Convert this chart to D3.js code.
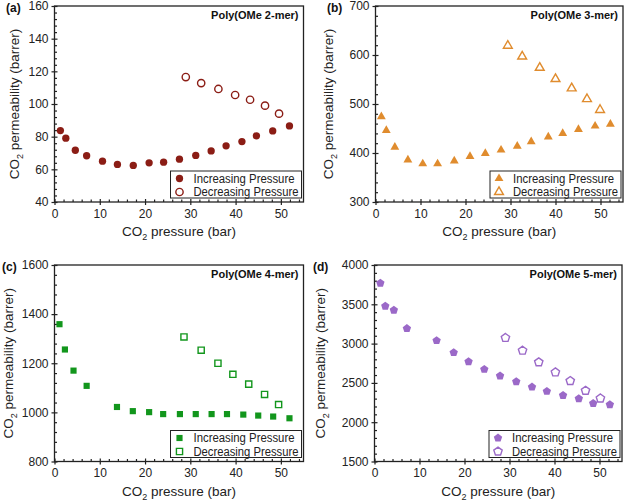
<!DOCTYPE html>
<html>
<head>
<meta charset="utf-8">
<script src="https://cdn.jsdelivr.net/npm/d3@7"></script>
<style>
  body { margin: 0; background: #fff; }
  svg { font-family: "Liberation Sans", Arial, sans-serif; }
</style>
</head>
<body>
<svg id="chart" width="625" height="503"></svg>
<script>
// data
const incX2 = [1.3, 2.5, 4.6, 7.1, 10.6, 13.9, 17.4, 20.9, 24.1, 27.6, 31.2, 34.6, 37.9, 41.4, 44.6, 48.2, 51.9];
const incY2 = [83.7, 79.1, 71.7, 68.3, 65.0, 63.0, 62.4, 64.0, 64.4, 66.2, 68.5, 71.3, 74.4, 77.0, 80.5, 83.5, 86.6];
const decX2 = [29.0, 32.4, 36.2, 39.9, 43.2, 46.5, 49.6];
const decY2 = [116.5, 112.8, 109.2, 105.5, 102.6, 99.0, 94.1];

const incX3 = [1.3, 2.4, 4.3, 7.2, 10.5, 13.8, 17.5, 21.0, 24.4, 27.9, 31.5, 34.6, 38.4, 41.6, 45.1, 48.8, 52.2];
const incY3 = [474, 446, 412, 386, 378, 378, 384, 393, 399, 406, 414, 423, 433, 440, 448, 455, 459];
const decX3 = [29.4, 32.6, 36.5, 40.0, 43.6, 47.0, 49.9];
const decY3 = [619, 597, 574, 551, 532, 510, 488];

const incX4 = [1.1, 2.3, 4.2, 7.1, 13.8, 17.3, 20.9, 24.0, 27.7, 31.2, 34.7, 38.1, 41.7, 45.0, 48.3, 51.9];
const incY4 = [1359, 1256, 1170, 1108, 1022, 1005, 1001, 993, 993, 993, 993, 993, 991, 987, 983, 976];
const decX4 = [28.6, 32.4, 36.1, 39.4, 42.9, 46.4, 49.5];
const decY4 = [1307, 1253, 1200, 1155, 1115, 1073, 1032];

const incX5 = [1.3, 2.4, 4.3, 7.2, 13.8, 17.6, 20.9, 24.4, 27.9, 31.5, 35.0, 38.3, 41.9, 45.4, 48.6, 52.3];
const incY5 = [3770, 3477, 3426, 3192, 3039, 2886, 2771, 2673, 2588, 2516, 2448, 2393, 2342, 2299, 2240, 2223];
const decX5 = [29.1, 32.9, 36.5, 40.2, 43.5, 46.9, 50.2];
const decY5 = [3073, 2911, 2763, 2635, 2525, 2401, 2303];

const xTicks = [0, 10, 20, 30, 40, 50];
const yTicks2 = [40, 60, 80, 100, 120, 140, 160];
const yTicks3 = [300, 400, 500, 600, 700];
const yTicks4 = [800, 1000, 1200, 1400, 1600];
const yTicks5 = [1500, 2000, 2500, 3000, 3500, 4000];

const seriesNames = ["Increasing Pressure", "Decreasing Pressure"];

const svg = d3.select("#chart");

// d3 has no pentagon symbol, so make one
const symbolPentagon = {
  draw(context, size) {
    const r = Math.sqrt(size / 2.378);
    for (let i = 0; i < 5; i++) {
      const a = -Math.PI / 2 + i * 2 * Math.PI / 5;
      const px = r * Math.cos(a), py = r * Math.sin(a);
      if (i === 0) context.moveTo(px, py); else context.lineTo(px, py);
    }
    context.closePath();
  }
};

const panels = [
  { tag: "(a)", title: "Poly(OMe 2-mer)", color: "#8b1d15", symbol: d3.symbolCircle, size: 42,
    box: [54.5, 6, 303.5, 202], yDom: [40, 160], yTicks: yTicks2, yMinor: 5,
    inc: [incX2, incY2], dec: [decX2, decY2], tagX: 6, titleOff: 36 },
  { tag: "(b)", title: "Poly(OMe 3-mer)", color: "#e08c2e", symbol: d3.symbolTriangle, size: 34,
    box: [375.5, 6, 623, 202], yDom: [300, 700], yTicks: yTicks3, yMinor: 5,
    inc: [incX3, incY3], dec: [decX3, decY3], tagX: 327, titleOff: 42.5 },
  { tag: "(c)", title: "Poly(OMe 4-mer)", color: "#12961c", symbol: d3.symbolSquare, size: 38,
    box: [54.5, 265, 303.5, 461.5], yDom: [800, 1600], yTicks: yTicks4, yMinor: 5,
    inc: [incX4, incY4], dec: [decX4, decY4], tagX: 2, titleOff: 42 },
  { tag: "(d)", title: "Poly(OMe 5-mer)", color: "#9b69c8", symbol: symbolPentagon, size: 46,
    box: [374.5, 265, 622, 461.5], yDom: [1500, 4000], yTicks: yTicks5, yMinor: 5,
    inc: [incX5, incY5], dec: [decX5, decY5], tagX: 313, titleOff: 50 }
];

function minorTicks(major, parts) {
  const out = [];
  for (let i = 0; i < major.length - 1; i++) {
    const step = (major[i + 1] - major[i]) / parts;
    for (let k = 1; k < parts; k++) out.push(major[i] + k * step);
  }
  return out;
}

function co2Text(sel, rest) {
  sel.append("tspan").text("CO");
  sel.append("tspan").attr("font-size", "9px").attr("dy", 4).text("2");
  sel.append("tspan").attr("dy", -4).text(rest);
}

const fmt = d3.format("d");

panels.forEach(p => {
  const [x0, y0, x1, y1] = p.box;
  const x = d3.scaleLinear().domain([0, 55]).range([x0, x1]);
  const y = d3.scaleLinear().domain(p.yDom).range([y1, y0]);
  const g = svg.append("g");

  // minor ticks point inward
  const xMinor = minorTicks(xTicks.concat([60]), 5).filter(v => v < 55);
  g.append("g").attr("transform", `translate(0,${y1})`)
    .call(d3.axisBottom(x).tickValues(xMinor).tickSize(-2.5).tickFormat(""))
    .call(a => a.select(".domain").remove());
  g.append("g").attr("transform", `translate(${x0},0)`)
    .call(d3.axisLeft(y).tickValues(minorTicks(p.yTicks, p.yMinor)).tickSize(-2.5).tickFormat(""))
    .call(a => a.select(".domain").remove());

  // major ticks cross the axis
  const xa = g.append("g").attr("transform", `translate(0,${y1})`)
    .call(d3.axisBottom(x).tickValues(xTicks).tickFormat(fmt).tickSizeInner(3).tickSizeOuter(0).tickPadding(4));
  xa.selectAll(".tick line").attr("y1", -3);
  xa.select(".domain").remove();
  xa.selectAll("text").attr("font-size", "12px").attr("fill", "#222");

  const ya = g.append("g").attr("transform", `translate(${x0},0)`)
    .call(d3.axisLeft(y).tickValues(p.yTicks).tickFormat(fmt).tickSizeInner(3).tickSizeOuter(0).tickPadding(3));
  ya.selectAll(".tick line").attr("x1", 3);
  ya.select(".domain").remove();
  ya.selectAll("text").attr("font-size", "12px").attr("fill", "#222");

  g.selectAll(".tick line").attr("stroke", "#222").attr("stroke-width", 1.2);

  // frame
  g.append("rect").attr("x", x0).attr("y", y0)
    .attr("width", x1 - x0).attr("height", y1 - y0)
    .attr("fill", "none").attr("stroke", "#222").attr("stroke-width", 1.3);

  // points
  const sym = d3.symbol().type(p.symbol).size(p.size);
  const inc = p.inc[0].map((v, i) => [v, p.inc[1][i]]);
  const dec = p.dec[0].map((v, i) => [v, p.dec[1][i]]);
  g.selectAll(".inc").data(inc).join("path").attr("class", "inc")
    .attr("d", sym)
    .attr("transform", d => `translate(${x(d[0])},${y(d[1])})`)
    .attr("fill", p.color);
  g.selectAll(".dec").data(dec).join("path").attr("class", "dec")
    .attr("d", sym)
    .attr("transform", d => `translate(${x(d[0])},${y(d[1])})`)
    .attr("fill", "#fff").attr("stroke", p.color).attr("stroke-width", 1.4);

  // panel title and tag
  g.append("text").attr("x", x1 - 5).attr("y", y0 + 13)
    .attr("text-anchor", "end").attr("font-size", "11px").attr("font-weight", "bold")
    .attr("fill", "#111").text(p.title);
  g.append("text").attr("x", p.tagX).attr("y", y0 + 6)
    .attr("font-size", "12px").attr("font-weight", "bold")
    .attr("fill", "#111").text(p.tag);

  // axis titles
  co2Text(g.append("text").attr("x", (x0 + x1) / 2).attr("y", y1 + 34)
    .attr("text-anchor", "middle").attr("font-size", "13.5px").attr("fill", "#222"), " pressure (bar)");
  co2Text(g.append("text")
    .attr("transform", `translate(${x0 - p.titleOff},${(y0 + y1) / 2}) rotate(-90)`)
    .attr("text-anchor", "middle").attr("font-size", "13.5px").attr("fill", "#222"), " permeability (barrer)");

  // legend
  const lw = 131, lh = 27;
  const lx = x1 - lw - 2, ly = y1 - lh - 4;
  const lg = g.append("g");
  lg.append("rect").attr("x", lx).attr("y", ly).attr("width", lw).attr("height", lh)
    .attr("fill", "#fff").attr("stroke", "#222").attr("stroke-width", 1);
  seriesNames.forEach((name, i) => {
    const cy = ly + 7.5 + i * 13.5;
    const m = lg.append("path").attr("d", sym)
      .attr("transform", `translate(${lx + 9},${cy})`);
    if (i === 0) m.attr("fill", p.color);
    else m.attr("fill", "#fff").attr("stroke", p.color).attr("stroke-width", 1.4);
    lg.append("text").attr("x", lx + 23).attr("y", cy + 4.3)
      .attr("font-size", "12px").attr("fill", "#222")
      .attr("textLength", i === 0 ? 101 : 105).attr("lengthAdjust", "spacingAndGlyphs")
      .text(name);
  });
});
</script>
</body>
</html>
